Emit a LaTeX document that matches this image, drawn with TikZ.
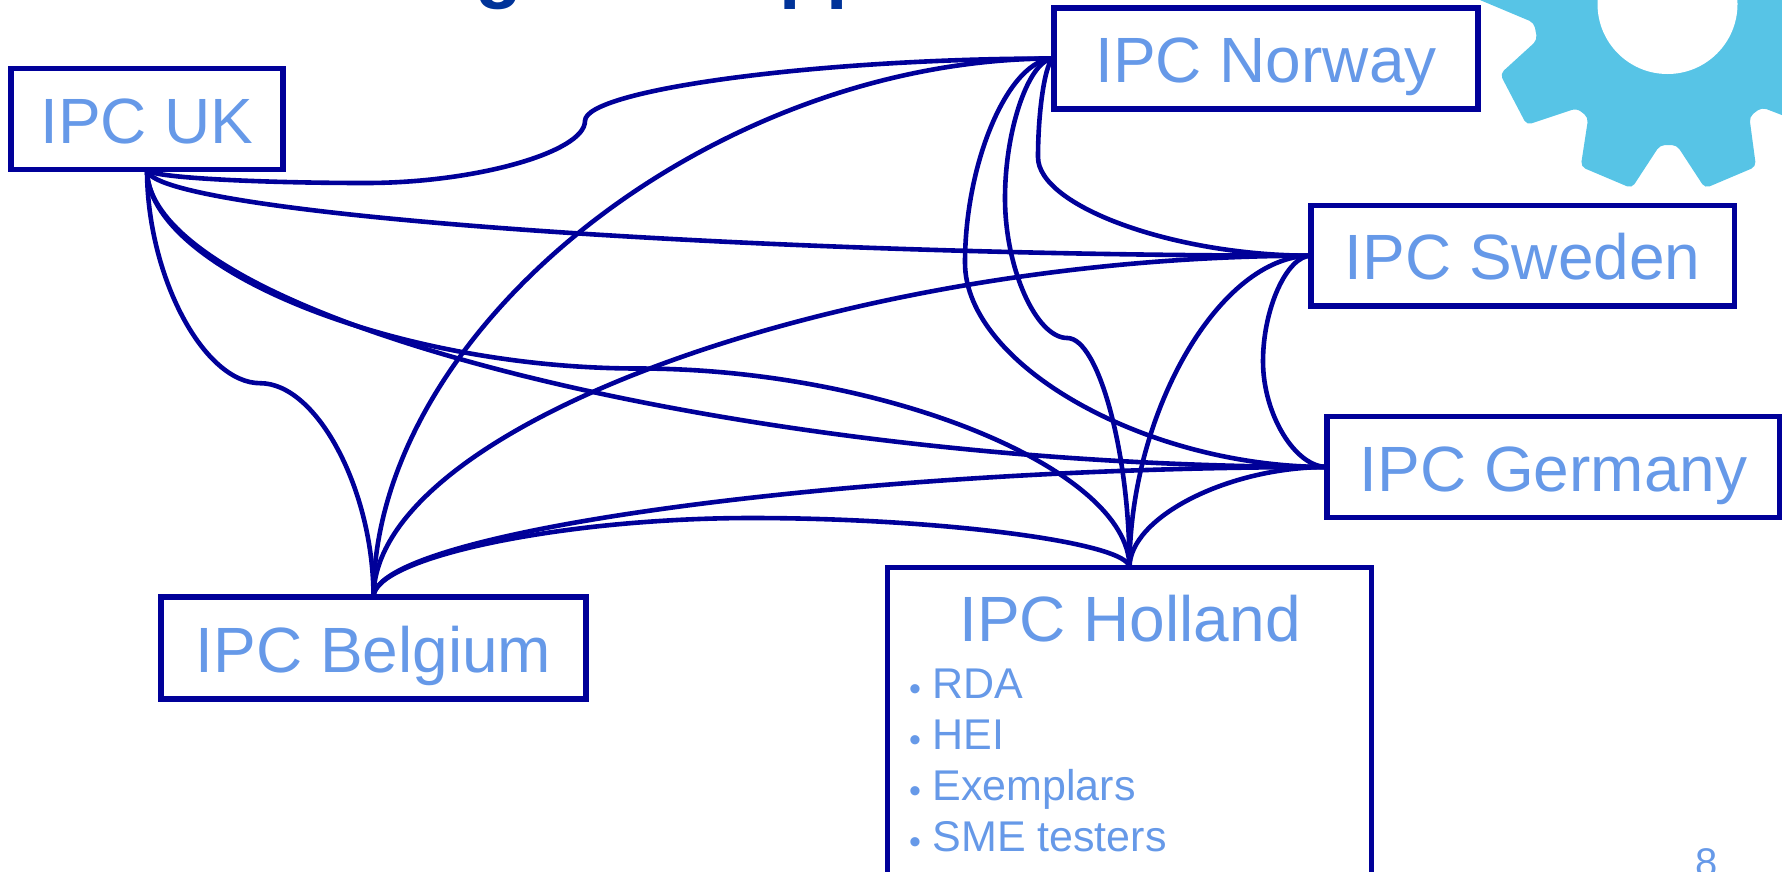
\documentclass[tikz,border=0pt]{standalone}
\usepackage{fontspec}
\setmainfont{Liberation Sans}
\definecolor{linkblue}{HTML}{000099}
\definecolor{textblue}{HTML}{6699E8}
\definecolor{titleblue}{HTML}{003399}
\definecolor{gearblue}{HTML}{57C4E6}
\tikzset{
  ipcbox/.style={draw=linkblue,line width=5.5pt,rectangle,outer sep=0pt,inner sep=0pt,text=textblue,
    font=\fontsize{64}{70}\selectfont,align=center},
  link/.style={draw=linkblue,line width=4.6pt,line join=round},
  bulletline/.style={anchor=base west,inner sep=0pt,outer sep=0pt,text=textblue,font=\fontsize{43}{46}\selectfont},
  titlefrag/.style={anchor=base west,inner sep=0pt,text=titleblue,font=\fontsize{77}{80}\selectfont\bfseries},
}
\newcommand{\blt}[1]{\makebox[23.5pt][l]{\raisebox{-2pt}{\fontsize{34}{36}\selectfont •}}#1}
\begin{document}
\begin{tikzpicture}[x=1pt,y=-1pt]
\useasboundingbox (0,0) rectangle (1782,871);
\clip (0,0) rectangle (1782,871);
% gear
\fill[gearblue,rounded corners=5pt] (1468,-5) -- (1534,22.7) -- (1537.3,40) -- (1500,74) -- (1526.7,125)
  -- (1576.7,108.3) -- (1588.3,117.3) -- (1580.7,166.7) -- (1631.7,188.3) -- (1660,145) -- (1676.7,145)
  -- (1705,188.3) -- (1756,166.7) -- (1749.3,116.7) -- (1761.7,107.3) -- (1800,122) -- (1800,-8) -- cycle;
\fill[white] (1667.5,4) circle (70);
% title fragments
\node[titlefrag] (tg) at (475,-7) {g};
\node[titlefrag] (tp) at (779.6,-7) {pp};
% boxes
\node[ipcbox,minimum width=272pt,minimum height=101pt,text height=48pt,text depth=0pt] (uk) at (147,119) {IPC UK};
\node[ipcbox,minimum width=424pt,minimum height=101pt,text height=48.4pt,text depth=0pt] (norway) at (1266,58.5) {IPC Norway};
\node[ipcbox,minimum width=423.5pt,minimum height=100.5pt,text height=47pt,text depth=0pt] (sweden) at (1522.75,255.7) {IPC Sweden};
\node[ipcbox,minimum width=453pt,minimum height=101pt,text height=48pt,text depth=0pt] (germany) at (1553.5,467) {IPC Germany};
\node[ipcbox,minimum width=425pt,minimum height=102pt,text height=48pt,text depth=0pt] (belgium) at (373.5,648) {IPC Belgium};
\node[ipcbox,minimum width=484pt,minimum height=332.5pt] (holland) at (1129.5,733.75) {};
% holland contents
\node[anchor=base,inner sep=0pt,text=textblue,font=\fontsize{64}{70}\selectfont] (hname) at (1130,641.7) {IPC Holland};
\node[bulletline] (h1) at (909,698) {\blt{RDA}};
\node[bulletline] (h2) at (909,749) {\blt{HEI}};
\node[bulletline] (h3) at (909,800) {\blt{Exemplars}};
\node[bulletline] (h4) at (909,851.7) {\blt{SME testers}};
\node[anchor=base,inner sep=0pt,text=textblue,font=\fontsize{40}{44}\selectfont] (pagenum) at (1707,876) {8};
% connectors
\draw[link] (uk.south) .. controls (147,177.5) and (256.5,183) .. (366,183) .. controls (475.5,183) and (585,152) .. (585,120.9) .. controls (585,89.8) and (819,58.5) .. (norway.west);
\draw[link] (uk.south) .. controls (147,212.6) and (729,255.7) .. (sweden.west);
\draw[link] (uk.south) .. controls (147,318) and (737,467) .. (germany.west);
\draw[link] (uk.south) .. controls (147,268) and (393,368.5) .. (638.3,368.5) .. controls (884,368.5) and (1129.5,469) .. (holland.north);
\draw[link] (uk.south) .. controls (147,276) and (203.6,383.2) .. (260.2,383.2) .. controls (317,383.2) and (373.5,490) .. (belgium.north);
\draw[link] (norway.west) .. controls (713.7,58.5) and (373.5,327.7) .. (belgium.north);
\draw[link] (norway.west) .. controls (1046,58.5) and (1038,107.8) .. (1038,157.1) .. controls (1038,206.4) and (1174.5,255.7) .. (sweden.west);
\draw[link] (norway.west) .. controls (1009.5,58.5) and (965,160.6) .. (965,262.8) .. controls (965,365) and (1146,467) .. (germany.west);
\draw[link] (norway.west) .. controls (1029.5,58.5) and (1005,128.4) .. (1005,198.3) .. controls (1005,268) and (1036,338) .. (1067.3,338) .. controls (1098.4,338) and (1129.5,452.7) .. (holland.north);
\draw[link] (sweden.west) .. controls (842.2,255.7) and (373.5,426.3) .. (belgium.north);
\draw[link] (sweden.west) .. controls (1287,255.7) and (1263,308.5) .. (1263,361.3) .. controls (1263,414.2) and (1295,467) .. (germany.west);
\draw[link] (sweden.west) .. controls (1220.2,255.7) and (1129.5,411.6) .. (holland.north);
\draw[link] (germany.west) .. controls (1228.2,467) and (1129.5,517.2) .. (holland.north);
\draw[link] (germany.west) .. controls (850.2,467) and (373.5,532) .. (belgium.north);
\draw[link] (belgium.north) .. controls (373.5,557.5) and (562.5,518) .. (751.5,518) .. controls (940.5,518) and (1129.5,542.7) .. (holland.north);
\end{tikzpicture}
\end{document}
